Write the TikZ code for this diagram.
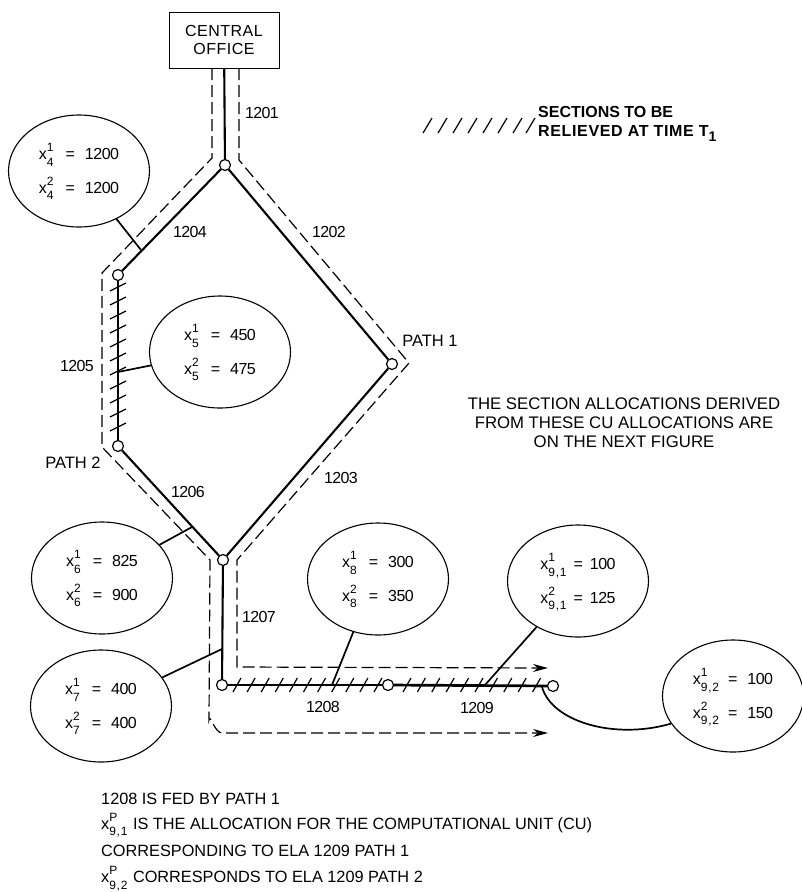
\documentclass[tikz,border=0pt]{standalone}
\usepackage{fontspec}
\setmainfont{Liberation Sans}
\usetikzlibrary{shapes.geometric, arrows.meta, positioning}
\newcommand{\cux}[2]{x\smash{\rlap{\raisebox{.5em}{\fontsize{12}{12}\selectfont #1}}\raisebox{-.4em}{\fontsize{12}{12}\selectfont\addfontfeatures{LetterSpace=6}#2}}}

\begin{document}
\begin{tikzpicture}[
        x=1pt, y=-1pt,
        office/.style={rectangle, draw, line width=1pt, minimum width=110pt, minimum height=56pt,
                       align=center, font=\fontsize{16}{18}\selectfont\addfontfeatures{LetterSpace=3}},
        alloc/.style={ellipse, draw, line width=1.1pt, minimum width=141pt, minimum height=112pt,
                      inner sep=0pt, align=center, font=\fontsize{16}{33.5}\selectfont\addfontfeatures{LetterSpace=-3}},
        junction/.style={circle, draw, fill=white, line width=1.2pt, minimum size=11pt, inner sep=0pt},
        label/.style={font=\fontsize{16}{17}\selectfont\addfontfeatures{LetterSpace=-4}, inner sep=0pt},
        pathname/.style={font=\fontsize{16.5}{17}\selectfont, inner sep=0pt},
        note/.style={font=\fontsize{16.3}{19}\selectfont, inner sep=0pt, align=center},
        section/.style={line width=2.1pt},
        relieved/.style={line width=2.7pt},
        tap/.style={line width=1.7pt},
        hatch/.style={line width=1.2pt},
        route/.style={line width=1.2pt, dash pattern=on 12pt off 5pt},
        routeend/.style={route, -{Stealth[length=15pt, width=8pt]}}
      ]
        \useasboundingbox (0, 0) rectangle (802, 892);
        % Nodes
        \node[office] (co) at (224, 40) {CENTRAL\\OFFICE};
        \node[alloc] (e4) at (79, 171)
          {\cux{1}{4}\hspace{12pt}=\hspace{10pt}1200\\ \cux{2}{4}\hspace{12pt}=\hspace{10pt}1200};
        \node[alloc] (e5) at (220, 352)
          {\cux{1}{5}\hspace{12pt}=\hspace{10pt}450\\ \cux{2}{5}\hspace{12pt}=\hspace{10pt}475};
        \node[alloc] (e6) at (102, 578)
          {\cux{1}{6}\hspace{12pt}=\hspace{10pt}825\\ \cux{2}{6}\hspace{12pt}=\hspace{10pt}900};
        \node[alloc] (e7) at (101, 706)
          {\cux{1}{7}\hspace{12pt}=\hspace{10pt}400\\ \cux{2}{7}\hspace{12pt}=\hspace{10pt}400};
        \node[alloc] (e8) at (378, 579)
          {\cux{1}{8}\hspace{12pt}=\hspace{10pt}300\\ \cux{2}{8}\hspace{12pt}=\hspace{10pt}350};
        \node[alloc] (e91) at (578, 581)
          {\cux{1}{9,1}\hspace{7pt}=\hspace{7pt}100\\ \cux{2}{9,1}\hspace{7pt}=\hspace{7pt}125};
        \node[alloc] (e92) at (733, 696)
          {\cux{1}{9,2}\hspace{9pt}=\hspace{10pt}100\\ \cux{2}{9,2}\hspace{9pt}=\hspace{10pt}150};
        % Tap points on the sections
        \coordinate (t4) at (141, 250);
        \coordinate (t5) at (118, 372);
        \coordinate (t6) at (192, 527);
        \coordinate (t7) at (222, 649);
        \coordinate (t8) at (332, 685);
        \coordinate (t91) at (485, 685);
        \coordinate (t92) at (542, 687);
        % Dashed routes
        \coordinate (ra) at (212, 68);
        \coordinate (rb) at (548, 733);
        \coordinate (rc) at (239, 68);
        \coordinate (rd) at (548, 668);
        % Hatching
        \foreach \y in {287, 301, 315, 329, 343, 357, 371, 385, 399, 413, 427} {
          \draw[hatch] (110, \y+4) -- (126, \y-4);
        }
        \foreach \x in {237, 251.1, 265.2, 279.3, 293.4, 307.5, 321.6, 335.7, 349.8, 363.9, 378,
                        407, 421.4, 435.8, 450.2, 464.6, 479, 493.4, 507.8, 522.2, 536.6} {
          \draw[hatch] (\x-4, 692) -- (\x+4, 678);
        }
        \foreach \x in {423, 438, 453, 468, 483, 498, 513, 526} {
          \draw[hatch] (\x, 133) -- (\x+9, 118);
        }
        % Edges
        \draw[routeend] (ra) -- (212, 158) -- (102, 273) -- (102, 447) -- (210, 560)
          -- (209, 720) to[out=85, in=180] (222, 733) -- (rb);
        \draw[routeend] (rc) -- (239, 160) -- (409, 363) -- (237, 560) -- (237, 667) -- (rd);
        \draw[tap] (e4.-52) -- (t4);
        \draw[tap] (e5.191) -- (t5);
        \draw[tap] (e6.30) -- (t6);
        \draw[tap] (e7.25) -- (t7);
        \draw[tap] (e8.-115) -- (t8);
        \draw[tap] (e91.228) -- (t91);
        \draw[tap] (t92) .. controls (552, 722) and (615, 740) .. (e92.204);
        \node[junction] (j1) at (225, 165) {};
        \node[junction] (j2) at (118, 275) {};
        \node[junction] (j3) at (392, 364) {};
        \node[junction] (j4) at (118, 446) {};
        \node[junction] (j5) at (223, 560) {};
        \node[junction] (j6) at (222, 685) {};
        \node[junction] (j7) at (388, 685) {};
        \node[junction] (j8) at (553, 686) {};
        \draw[section] (co) -- (j1);
        \draw[section] (j1) -- (j2);
        \draw[section] (j1) -- (j3);
        \draw[section] (j3) -- (j5);
        \draw[relieved] (j2) -- (j4);
        \draw[section] (j4) -- (j5);
        \draw[section] (j5) -- (j6);
        \draw[relieved] (j6) -- (j7);
        \draw[relieved] (j7) -- (j8);
        % Labels
        \node[label] (l1201) at (262, 113) {1201};
        \node[label] (l1202) at (329, 232) {1202};
        \node[label] (l1203) at (341, 478) {1203};
        \node[label] (l1204) at (190, 232) {1204};
        \node[label] (l1205) at (77, 366) {1205};
        \node[label] (l1206) at (188, 492) {1206};
        \node[label] (l1207) at (259, 617) {1207};
        \node[label] (l1208) at (323, 707) {1208};
        \node[label] (l1209) at (477, 708) {1209};
        \node[pathname] (path1) at (430, 341) {PATH 1};
        \node[pathname] (path2) at (73, 463) {PATH 2};
        \node[note, font=\fontsize{16}{19.5}\selectfont\bfseries, align=left, anchor=north west] (legend) at (538, 106)
          {SECTIONS TO BE\\\addfontfeatures{LetterSpace=4}RELIEVED AT TIME T\raisebox{-.3em}{\fontsize{14}{14}\selectfont 1}};
        \node[note, font=\fontsize{16.75}{19}\selectfont] (remark) at (624, 423)
          {THE SECTION ALLOCATIONS DERIVED\\FROM THESE CU ALLOCATIONS ARE\\ON THE NEXT FIGURE};
        \node[note, anchor=west] (n1) at (101, 799) {1208 IS FED BY PATH 1};
        \node[note, anchor=west] (n2) at (101, 825) {\cux{P}{9,1} \hspace{1pt}IS THE ALLOCATION FOR THE COMPUTATIONAL UNIT (CU)};
        \node[note, anchor=west] (n3) at (101, 851) {CORRESPONDING TO ELA 1209 PATH 1};
        \node[note, anchor=west] (n4) at (101, 877) {\cux{P}{9,2} \hspace{1pt}CORRESPONDS TO ELA 1209 PATH 2};
      \end{tikzpicture}
\end{document}
